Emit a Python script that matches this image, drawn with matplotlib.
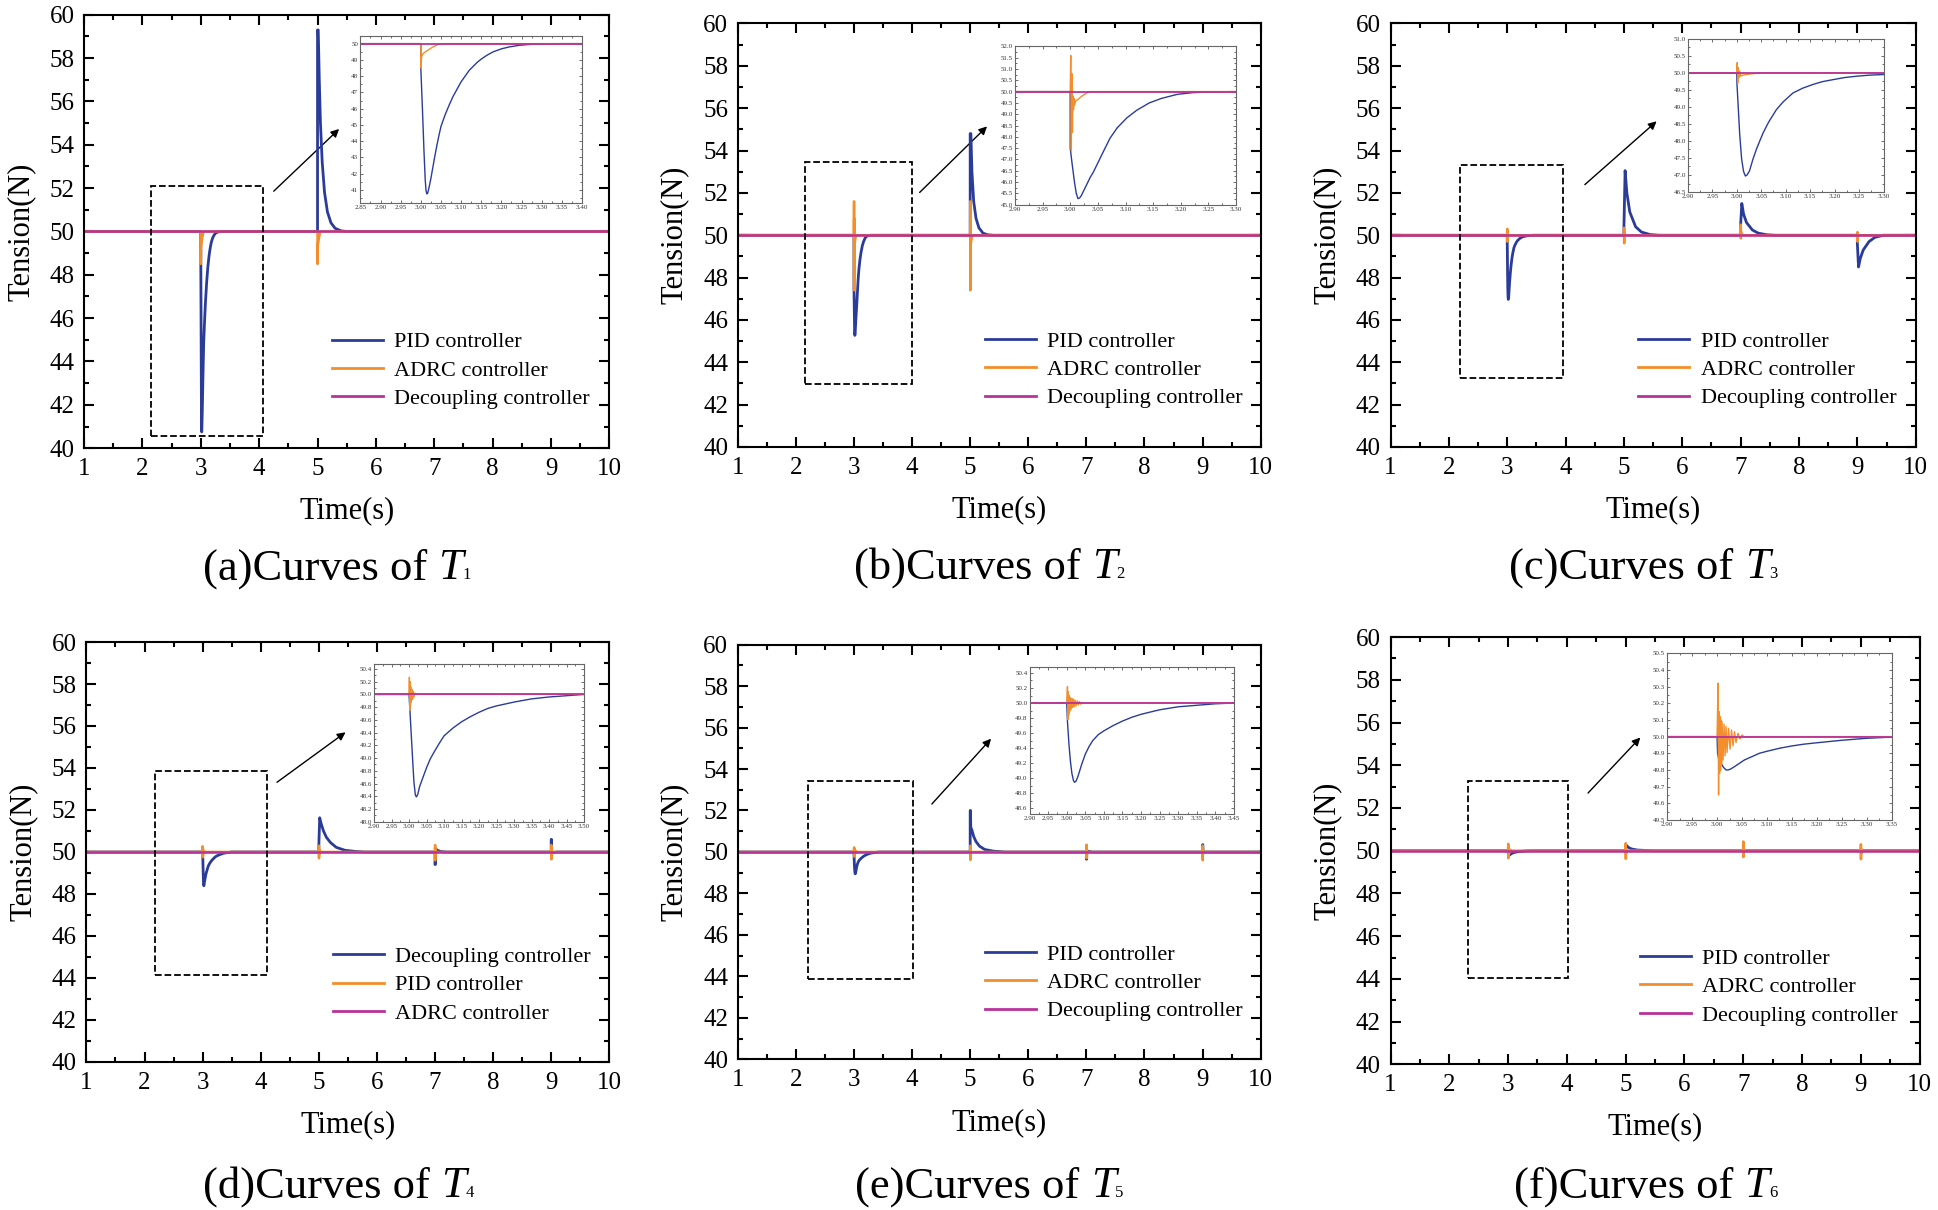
import numpy as np
import matplotlib
matplotlib.use("Agg")
import matplotlib.pyplot as plt
from matplotlib.patches import Rectangle, FancyArrowPatch
from matplotlib.ticker import MultipleLocator, AutoMinorLocator, FormatStrFormatter
from matplotlib.offsetbox import TextArea, HPacker, AnnotationBbox

plt.rcParams['font.family'] = ['Liberation Serif', 'DejaVu Serif']

BLUE = '#2b3c98'
ORANGE = '#f28e2b'
MAGENTA = '#b8329b'

# ---- data: (time s, tension N) ----
decoupling = [(1.0, 50.0), (10.0, 50.0)]

a_blue = [(1.0, 50.0), (3.0, 50.0), (3.0, 48.5), (3.004, 46.0), (3.008, 43.3), (3.011, 41.6), (3.013, 40.95),
          (3.015, 40.75), (3.017, 40.8), (3.02, 41.1), (3.025, 41.7), (3.03, 42.4), (3.035, 43.1), (3.04, 43.75),
          (3.045, 44.35), (3.05, 44.9), (3.06, 45.6), (3.07, 46.2), (3.08, 46.75), (3.09, 47.2), (3.1, 47.65),
          (3.11, 48.0), (3.12, 48.35), (3.13, 48.6), (3.14, 48.85), (3.15, 49.05), (3.165, 49.3), (3.18, 49.5),
          (3.2, 49.68), (3.22, 49.8), (3.245, 49.9), (3.27, 49.95), (3.3, 49.98), (3.35, 50.0),
          (5.0, 50.0), (5.0, 59.3), (5.012, 59.3), (5.03, 57.0), (5.05, 55.0), (5.08, 53.2), (5.12, 51.8),
          (5.17, 50.9), (5.23, 50.4), (5.3, 50.15), (5.4, 50.03), (5.5, 50.0), (10.0, 50.0)]
a_orange = [(1.0, 50.0), (3.0, 50.0), (3.0, 48.5), (3.002, 49.2), (3.006, 49.4), (3.015, 49.55), (3.025, 49.72),
            (3.035, 49.86), (3.045, 49.96), (3.055, 50.0),
            (5.0, 50.0), (5.0, 48.5), (5.002, 49.2), (5.006, 49.4), (5.015, 49.55), (5.025, 49.72),
            (5.035, 49.86), (5.045, 49.96), (5.055, 50.0), (10.0, 50.0)]

b_blue = [(1.0, 50.0), (3.0, 50.0), (3.0, 47.5), (3.004, 46.7), (3.008, 45.95), (3.011, 45.5), (3.014, 45.27),
          (3.017, 45.3), (3.02, 45.4), (3.025, 45.65), (3.03, 45.9), (3.036, 46.2), (3.042, 46.45), (3.05, 46.85),
          (3.06, 47.35), (3.072, 47.94), (3.085, 48.4), (3.1025, 48.84), (3.12, 49.17), (3.143, 49.5),
          (3.165, 49.7), (3.194, 49.88), (3.22, 49.95), (3.244, 49.985), (3.3, 50.0),
          (5.0, 50.0), (5.0, 54.8), (5.012, 54.8), (5.03, 53.0), (5.06, 51.6), (5.1, 50.8), (5.15, 50.35),
          (5.22, 50.1), (5.3, 50.02), (5.4, 50.0), (10.0, 50.0)]
b_orange = [(1.0, 50.0), (3.0, 50.0), (3.001, 51.6), (3.002, 47.4), (3.003, 50.8), (3.004, 48.2), (3.005, 49.8),
            (3.006, 49.2), (3.007, 49.7), (3.008, 49.4), (3.01, 49.6), (3.014, 49.65), (3.02, 49.78),
            (3.026, 49.88), (3.032, 49.96), (3.038, 50.0),
            (5.0, 50.0), (5.001, 51.6), (5.002, 47.4), (5.003, 50.8), (5.004, 48.2), (5.005, 49.8),
            (5.006, 49.2), (5.007, 49.7), (5.008, 49.4), (5.01, 49.6), (5.014, 49.65), (5.02, 49.78),
            (5.026, 49.88), (5.032, 49.96), (5.038, 50.0), (10.0, 50.0)]

c_blue = [(1.0, 50.0), (3.0, 50.0), (3.0005, 49.66), (3.003, 49.0), (3.006, 48.2), (3.01, 47.46), (3.014, 47.1),
          (3.0176, 46.97), (3.021, 47.0), (3.026, 47.12), (3.033, 47.46), (3.04, 47.75), (3.047, 48.0),
          (3.054, 48.24), (3.065, 48.55), (3.081, 48.92), (3.095, 49.15), (3.115, 49.41), (3.135, 49.55),
          (3.156, 49.66), (3.175, 49.74), (3.197, 49.8), (3.22, 49.86), (3.245, 49.9), (3.27, 49.93),
          (3.3, 49.95), (3.35, 49.98), (3.45, 50.0),
          (5.0, 50.0), (5.0, 50.4), (5.02, 53.05), (5.05, 52.0), (5.1, 51.1), (5.2, 50.4), (5.3, 50.15),
          (5.45, 50.03), (5.6, 50.0),
          (7.0, 50.0), (7.0, 50.5), (7.02, 51.5), (7.05, 51.0), (7.1, 50.6), (7.2, 50.25), (7.3, 50.1),
          (7.45, 50.02), (7.6, 50.0),
          (9.0, 50.0), (9.0, 49.6), (9.02, 48.5), (9.05, 48.9), (9.1, 49.3), (9.2, 49.7), (9.3, 49.9),
          (9.45, 50.0), (10.0, 50.0)]
c_orange = [(1.0, 50.0), (3.0, 50.0), (3.001, 50.3), (3.002, 49.7), (3.003, 50.15), (3.004, 49.85),
            (3.006, 50.05), (3.008, 49.9), (3.012, 49.93), (3.02, 49.95), (3.03, 49.97), (3.05, 50.0),
            (5.0, 50.0), (5.002, 50.35), (5.004, 49.62), (5.006, 50.1), (5.01, 49.95), (5.02, 50.0),
            (7.0, 50.0), (7.002, 50.5), (7.004, 49.85), (7.006, 50.2), (7.01, 50.05), (7.03, 50.02), (7.06, 50.0),
            (9.0, 50.0), (9.002, 50.15), (9.004, 49.7), (9.006, 50.0), (9.01, 49.95), (9.02, 50.0),
            (10.0, 50.0)]

d_blue = [(1.0, 50.0), (3.0, 50.0), (3.002, 49.8), (3.005, 49.5), (3.008, 49.2), (3.011, 48.9), (3.014, 48.62),
          (3.018, 48.42), (3.021, 48.39), (3.025, 48.43), (3.03, 48.55), (3.04, 48.7), (3.05, 48.85),
          (3.06, 48.98), (3.07, 49.08), (3.085, 49.22), (3.1, 49.35), (3.125, 49.47), (3.15, 49.57),
          (3.175, 49.65), (3.2, 49.72), (3.225, 49.78), (3.25, 49.82), (3.3, 49.88), (3.35, 49.93),
          (3.4, 49.96), (3.45, 49.98), (3.5, 50.0),
          (5.0, 50.0), (5.0, 50.3), (5.015, 51.63), (5.04, 51.35), (5.08, 51.0), (5.13, 50.7), (5.2, 50.45),
          (5.3, 50.22), (5.45, 50.08), (5.65, 50.02), (5.8, 50.0),
          (7.0, 50.0), (7.0, 49.4), (7.005, 49.4), (7.01, 50.15), (7.04, 50.08), (7.1, 50.02), (7.2, 50.0),
          (9.0, 50.0), (9.0, 50.6), (9.005, 50.6), (9.01, 49.95), (9.04, 49.98), (9.1, 50.0), (10.0, 50.0)]
d_orange = [(1.0, 50.0), (3.0, 50.0), (3.001, 50.27), (3.002, 49.75), (3.003, 50.2), (3.004, 49.82),
            (3.005, 50.12), (3.006, 49.88), (3.008, 50.08), (3.010, 49.92), (3.012, 50.05), (3.014, 49.96),
            (3.017, 50.02), (3.02, 50.0),
            (5.0, 50.0), (5.002, 50.3), (5.003, 49.7), (5.005, 50.12), (5.007, 49.9), (5.01, 50.04),
            (5.015, 49.98), (5.02, 50.0),
            (7.0, 50.0), (7.002, 50.33), (7.003, 49.6), (7.005, 50.12), (7.007, 49.88), (7.01, 50.04),
            (7.015, 49.98), (7.02, 50.0),
            (9.0, 50.0), (9.002, 50.33), (9.003, 49.65), (9.005, 50.12), (9.007, 49.88), (9.01, 50.04),
            (9.015, 49.98), (9.02, 50.0), (10.0, 50.0)]

e_blue = [(1.0, 50.0), (3.0, 50.0), (3.002, 49.75), (3.006, 49.45), (3.01, 49.22), (3.014, 49.06), (3.018, 48.97),
          (3.021, 48.945), (3.025, 48.96), (3.03, 49.02), (3.04, 49.18), (3.05, 49.32), (3.06, 49.42),
          (3.07, 49.5), (3.085, 49.58), (3.1, 49.63), (3.125, 49.7), (3.15, 49.76), (3.175, 49.81), (3.2, 49.85),
          (3.225, 49.88), (3.25, 49.91), (3.3, 49.95), (3.35, 49.97), (3.4, 49.99), (3.45, 50.0),
          (5.0, 50.0), (5.0, 52.0), (5.005, 52.0), (5.01, 51.2), (5.03, 51.05), (5.06, 50.75), (5.1, 50.5),
          (5.16, 50.28), (5.25, 50.12), (5.4, 50.04), (5.6, 50.0),
          (7.0, 50.0), (7.0, 49.65), (7.005, 49.65), (7.01, 50.05), (7.05, 50.02), (7.1, 50.0),
          (9.0, 50.0), (9.0, 50.35), (9.005, 50.35), (9.01, 49.98), (9.05, 50.0), (10.0, 50.0)]
e_orange = [(1.0, 50.0), (3.0, 50.0), (3.002, 50.22), (3.003, 49.78), (3.004, 50.15), (3.005, 49.83),
            (3.006, 50.1), (3.007, 49.87), (3.008, 50.08), (3.009, 49.9), (3.010, 50.07), (3.012, 49.92),
            (3.014, 50.06), (3.016, 49.94), (3.018, 50.05), (3.020, 49.95), (3.022, 50.04), (3.025, 49.96),
            (3.028, 50.03), (3.031, 49.975), (3.034, 50.02), (3.037, 49.985), (3.041, 50.01), (3.045, 49.995),
            (3.05, 50.0),
            (5.0, 50.0), (5.002, 50.3), (5.003, 49.62), (5.005, 50.1), (5.007, 49.9), (5.01, 50.04),
            (5.015, 49.98), (5.02, 50.0),
            (7.0, 50.0), (7.002, 50.35), (7.003, 49.7), (7.005, 50.12), (7.007, 49.9), (7.01, 50.04),
            (7.015, 49.98), (7.02, 50.0),
            (9.0, 50.0), (9.002, 50.3), (9.003, 49.6), (9.005, 50.1), (9.007, 49.9), (9.01, 50.04),
            (9.015, 49.98), (9.02, 50.0), (10.0, 50.0)]

f_blue = [(1.0, 50.0), (3.0, 50.0), (3.001, 49.9), (3.003, 49.87), (3.008, 49.84), (3.013, 49.815),
          (3.018, 49.80), (3.022, 49.8), (3.027, 49.805), (3.035, 49.82), (3.045, 49.84), (3.055, 49.86),
          (3.07, 49.88), (3.085, 49.9), (3.1, 49.912), (3.125, 49.93), (3.15, 49.944), (3.175, 49.955),
          (3.2, 49.963), (3.25, 49.978), (3.3, 49.99), (3.35, 49.997), (3.5, 50.0),
          (5.0, 50.0), (5.0, 50.25), (5.01, 50.25), (5.05, 50.15), (5.1, 50.08), (5.2, 50.03), (5.35, 50.01),
          (5.5, 50.0), (10.0, 50.0)]
f_orange = [(1.0, 50.0), (3.0, 50.0), (3.002, 50.32), (3.003, 49.65), (3.004, 50.15), (3.005, 49.78),
            (3.006, 50.12), (3.007, 49.8), (3.008, 50.1), (3.009, 49.83), (3.010, 50.09), (3.012, 49.86),
            (3.014, 50.075), (3.016, 49.885), (3.018, 50.06), (3.020, 49.905), (3.023, 50.05), (3.026, 49.925),
            (3.029, 50.04), (3.032, 49.945), (3.035, 50.03), (3.038, 49.965), (3.042, 50.02), (3.046, 49.985),
            (3.05, 50.01), (3.055, 49.997), (3.06, 50.0),
            (5.0, 50.0), (5.002, 50.35), (5.003, 49.62), (5.005, 50.12), (5.007, 49.88), (5.01, 50.05),
            (5.015, 49.97), (5.02, 50.0),
            (7.0, 50.0), (7.002, 50.43), (7.003, 49.7), (7.005, 50.15), (7.007, 49.9), (7.01, 50.05),
            (7.015, 49.98), (7.02, 50.0),
            (9.0, 50.0), (9.002, 50.3), (9.003, 49.6), (9.005, 50.1), (9.007, 49.88), (9.01, 50.04),
            (9.015, 49.98), (9.02, 50.0), (10.0, 50.0)]

std_labels = ['PID controller', 'ADRC controller', 'Decoupling controller']
d_labels = ['Decoupling controller', 'PID controller', 'ADRC controller']

panel_letters = ['a', 'b', 'c', 'd', 'e', 'f']
panel_series = [(a_blue, a_orange), (b_blue, b_orange), (c_blue, c_orange),
                (d_blue, d_orange), (e_blue, e_orange), (f_blue, f_orange)]
panel_labels = [std_labels, std_labels, std_labels, d_labels, std_labels, std_labels]

# ---- layout ----
axes_rects = [[0.0434, 0.6296, 0.2710, 0.3582], [0.3807, 0.6306, 0.2698, 0.3500], [0.7175, 0.6306, 0.2710, 0.3500],
              [0.0446, 0.1224, 0.2698, 0.3470], [0.3807, 0.1245, 0.2698, 0.3428], [0.7175, 0.1204, 0.2730, 0.3531]]
caption_y = [0.530, 0.531, 0.531, 0.0195, 0.0195, 0.0195]
zoom_boxes = [(2.15, 40.57, 4.06, 52.12), (2.157, 42.97, 4.0, 53.45), (2.19, 43.27, 3.96, 53.32),
              (2.18, 44.16, 4.10, 53.85), (2.21, 43.89, 4.02, 53.40), (2.31, 44.03, 4.02, 53.26)]
arrows = [((4.25, 51.86), (5.37, 54.73)), ((4.13, 52.02), (5.29, 55.14)), ((4.33, 52.39), (5.56, 55.38)),
          ((4.28, 53.32), (5.46, 55.70)), ((4.34, 52.31), (5.36, 55.46)), ((4.36, 52.70), (5.25, 55.30))]
inset_rects = [[0.526, 0.566, 0.422, 0.385], [0.530, 0.572, 0.423, 0.374], [0.566, 0.602, 0.373, 0.362],
               [0.550, 0.572, 0.402, 0.376], [0.558, 0.591, 0.391, 0.355], [0.523, 0.572, 0.424, 0.390]]
inset_xlims = [(2.85, 3.40), (2.90, 3.30), (2.90, 3.30), (2.90, 3.50), (2.90, 3.45), (2.90, 3.35)]
inset_ylims = [(40.2, 50.47), (45.0, 52.0), (46.5, 51.0), (48.0, 50.48), (48.52, 50.48), (49.5, 50.5)]
inset_ysteps = [1.0, 0.5, 0.5, 0.2, 0.2, 0.1]
inset_yfmt = ['%.0f', '%.1f', '%.1f', '%.1f', '%.1f', '%.1f']

fig = plt.figure(figsize=(19.38, 12.10), dpi=100)

for k in range(6):
    blue, orange = panel_series[k]
    labels = panel_labels[k]
    ax = fig.add_axes(axes_rects[k])
    curves = [np.array(blue).T, np.array(orange).T, np.array(decoupling).T]
    colors = [BLUE, ORANGE, MAGENTA]
    for (tt, yy), col, lw in zip(curves, colors, [2.0, 1.8, 1.8]):
        ax.plot(tt, yy, color=col, lw=lw)
    ax.set_xlim(1, 10)
    ax.set_ylim(40, 60)
    ax.xaxis.set_major_locator(MultipleLocator(1))
    ax.xaxis.set_minor_locator(MultipleLocator(0.5))
    ax.yaxis.set_major_locator(MultipleLocator(2))
    ax.yaxis.set_minor_locator(MultipleLocator(1))
    ax.xaxis.set_major_formatter(FormatStrFormatter('%d'))
    ax.yaxis.set_major_formatter(FormatStrFormatter('%d'))
    ax.tick_params(which='both', direction='in', top=True, right=True, width=1.5, labelsize=18, pad=7)
    ax.tick_params(which='major', length=7)
    ax.tick_params(which='minor', length=3.5)
    for sp in ax.spines.values():
        sp.set_linewidth(1.5)
    ax.set_xlabel('Time(s)', fontsize=22, labelpad=12)
    ax.set_ylabel('Tension(N)', fontsize=22, labelpad=10)

    handles = [plt.Line2D([], [], color=c, lw=2) for c in colors]
    ax.legend(handles, labels, loc='lower left', bbox_to_anchor=(0.455, 0.07), frameon=False,
              fontsize=16, handlelength=2.3, handletextpad=0.5, labelspacing=0.35, borderaxespad=0)

    # dashed zoom box and arrow pointing to the inset
    x0, y0, x1, y1 = zoom_boxes[k]
    ax.add_patch(Rectangle((x0, y0), x1 - x0, y1 - y0, fill=False, ls='--', lw=1.3, ec='black', zorder=5))
    tail, head = arrows[k]
    ax.add_patch(FancyArrowPatch(tail, head, arrowstyle='-|>', mutation_scale=12, lw=1.0, color='black',
                                 shrinkA=0, shrinkB=0))

    ins = ax.inset_axes(inset_rects[k])
    ins.set_zorder(10)
    for (tt, yy), col, lw in zip(curves, colors, [1.0, 1.0, 1.3]):
        ins.plot(tt, yy, color=col, lw=lw)
    ins.set_xlim(*inset_xlims[k])
    ins.set_ylim(*inset_ylims[k])
    ins.xaxis.set_major_locator(MultipleLocator(0.05))
    ins.xaxis.set_major_formatter(FormatStrFormatter('%.2f'))
    ins.yaxis.set_major_locator(MultipleLocator(inset_ysteps[k]))
    ins.yaxis.set_major_formatter(FormatStrFormatter(inset_yfmt[k]))
    ins.xaxis.set_minor_locator(AutoMinorLocator(2))
    ins.yaxis.set_minor_locator(AutoMinorLocator(2))
    ins.tick_params(which='both', direction='in', top=True, right=True, labelsize=5, pad=1.5,
                    width=0.6, color='#555555', labelcolor='#333333')
    ins.tick_params(which='major', length=2.5)
    ins.tick_params(which='minor', length=1.3)
    for sp in ins.spines.values():
        sp.set_linewidth(0.8)
        sp.set_color('#666666')

    # caption "(x)Curves of T_k"
    pos = ax.get_position()
    pieces = [TextArea('(%s)Curves of ' % panel_letters[k], textprops=dict(size=32)),
              TextArea('T', textprops=dict(size=32, style='italic')),
              TextArea(str(k + 1), textprops=dict(size=12))]
    pack = HPacker(children=pieces, align='baseline', pad=0, sep=0)
    ab = AnnotationBbox(pack, (pos.x0 + pos.width / 2 - 0.005, caption_y[k]), xycoords='figure fraction',
                        frameon=False, box_alignment=(0.5, 0.5))
    fig.add_artist(ab)

fig.savefig('out.png', dpi=100)
